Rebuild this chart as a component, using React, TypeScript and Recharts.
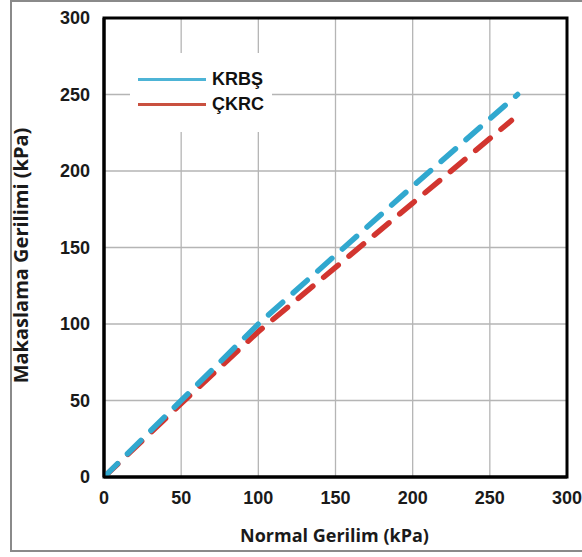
import { LineChart, Line, XAxis, YAxis, CartesianGrid, Legend, ReferenceArea } from 'recharts'

// Normal stress (kPa) vs shear stress (kPa) failure envelopes
const normalKrbs = [0, 50, 100, 150, 200, 268]
const shearKrbs = [0, 50, 100, 145, 190, 250]
const normalCkrc = [0, 50, 100, 150, 200, 264]
const shearCkrc = [0, 48, 95, 137, 179, 233]

const axisTicks = [0, 50, 100, 150, 200, 250, 300]

const seriesNames = ['KRBŞ', 'ÇKRC']
const seriesColors = ['#31a8cf', '#d2352f']
const legendColors = ['#4db4d6', '#c9503f']

const krbsData = normalKrbs.map((x, i) => ({ x, y: shearKrbs[i] }))
const ckrcData = normalCkrc.map((x, i) => ({ x, y: shearCkrc[i] }))

const tickFont = { fontFamily: 'Liberation Sans, Arial, sans-serif', fontWeight: 700, fontSize: 18, fill: '#1a1a1a' }
const titleFont = { fontFamily: '"Open Sans", sans-serif', fontWeight: 700, fontSize: 18, fill: '#1a1a1a' }

function BoxLegend() {
  return (
    <div style={{ position: 'relative', width: 142, height: 79, background: '#fff' }}>
      {seriesNames.map((name, i) => (
        <div key={name}>
          <div
            style={{
              position: 'absolute',
              left: 8,
              top: 26 + i * 25 - 1.5,
              width: 68,
              height: 3,
              background: legendColors[i],
            }}
          />
          <span
            style={{
              position: 'absolute',
              left: 82,
              top: 26 + i * 25 - 11,
              lineHeight: '22px',
              fontFamily: 'Liberation Sans, Arial, sans-serif',
              fontWeight: 700,
              fontSize: 18,
              color: '#111',
            }}
          >
            {name}
          </span>
        </div>
      ))}
    </div>
  )
}

function YTitle({ viewBox }: any) {
  const cx = viewBox.x + 20
  const cy = viewBox.y + viewBox.height / 2 + 8
  return (
    <text
      x={cx}
      y={cy}
      transform={`rotate(-90 ${cx} ${cy})`}
      textAnchor="middle"
      dominantBaseline="central"
      style={{ ...titleFont, fontSize: 20 }}
    >
      Makaslama Gerilimi (kPa)
    </text>
  )
}

function XTitle({ viewBox }: any) {
  const cx = viewBox.x + viewBox.width / 2 - 1
  return (
    <text x={cx} y={542} textAnchor="middle" style={titleFont}>
      Normal Gerilim (kPa)
    </text>
  )
}

export default function App() {
  return (
    <div style={{ position: 'absolute', left: 0, top: 0, width: 582, height: 557, background: '#fff', overflow: 'hidden' }}>
      <div
        style={{
          position: 'absolute',
          left: 10,
          top: 0,
          width: 580,
          height: 548,
          borderTop: '2px solid #8a8a8a',
          borderLeft: '2px solid #8a8a8a',
          borderBottom: '2px solid #8a8a8a',
        }}
      />
      <LineChart
        width={582}
        height={557}
        margin={{ top: 18, right: 15, left: 0, bottom: 0 }}
        style={{ position: 'absolute', left: 0, top: 0 }}
      >
        <CartesianGrid stroke="#b5b5b5" strokeWidth={1.3} />
        <XAxis
          dataKey="x"
          type="number"
          domain={[0, 300]}
          ticks={axisTicks}
          height={80}
          axisLine={{ stroke: '#000', strokeWidth: 3 }}
          tickLine={false}
          tickSize={0}
          tickMargin={14}
          tick={tickFont}
          interval={0}
          allowDataOverflow
          label={<XTitle />}
        />
        <YAxis
          type="number"
          domain={[0, 300]}
          ticks={axisTicks}
          width={104}
          axisLine={{ stroke: '#000', strokeWidth: 3 }}
          tickLine={false}
          tickSize={0}
          tickMargin={14}
          tick={tickFont}
          interval={0}
          allowDataOverflow
          label={<YTitle />}
        />
        <ReferenceArea x1={0} x2={300} y1={0} y2={300} fill="none" stroke="#000" strokeWidth={3} ifOverflow="visible" />
        <Legend
          layout="vertical"
          align="center"
          verticalAlign="middle"
          wrapperStyle={{ position: 'absolute', left: 130, top: 53, width: 142, height: 79 }}
          content={() => <BoxLegend />}
        />
        <Line
          data={ckrcData}
          dataKey="y"
          name={seriesNames[1]}
          stroke={seriesColors[1]}
          strokeWidth={5.5}
          strokeDasharray="19 14"
          strokeLinecap="round"
          dot={false}
          isAnimationActive={false}
        />
        <Line
          data={krbsData}
          dataKey="y"
          name={seriesNames[0]}
          stroke={seriesColors[0]}
          strokeWidth={5.5}
          strokeDasharray="19 14"
          strokeLinecap="round"
          dot={false}
          isAnimationActive={false}
        />
      </LineChart>
    </div>
  )
}
